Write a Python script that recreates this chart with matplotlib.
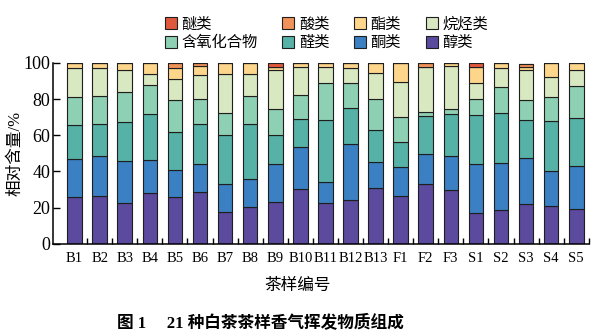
import numpy as np
import matplotlib as mpl
mpl.use('Agg')
import matplotlib.pyplot as plt
from matplotlib.patches import Patch

plt.rcParams['font.family'] = ['Liberation Serif', 'Noto Sans CJK SC']

samples = ['B1', 'B2', 'B3', 'B4', 'B5', 'B6', 'B7', 'B8', 'B9', 'B10', 'B11',
           'B12', 'B13', 'F1', 'F2', 'F3', 'S1', 'S2', 'S3', 'S4', 'S5']

# segment values in %, bottom to top
alcohols = [25.8, 26.3, 22.8, 28.0, 25.8, 28.7, 17.5, 20.6, 23.0, 30.4, 22.5,
            24.3, 30.8, 26.3, 33.0, 30.0, 17.1, 18.8, 22.3, 21.2, 19.2]
ketones = [21.2, 22.0, 23.2, 18.6, 14.9, 15.7, 15.6, 15.1, 21.0, 23.2, 11.6,
           31.1, 14.5, 16.4, 16.7, 18.6, 27.1, 25.8, 25.2, 19.0, 23.9]
aldehydes = [18.6, 18.2, 21.2, 25.0, 21.0, 22.1, 27.1, 30.8, 16.2, 15.6, 34.4,
             19.7, 17.5, 13.7, 21.2, 23.4, 26.9, 27.8, 20.8, 27.6, 26.7]
oxygenated = [15.8, 15.3, 16.6, 15.9, 17.7, 13.6, 12.3, 15.1, 14.2, 12.9, 20.3,
              14.0, 17.3, 13.9, 1.9, 2.4, 9.2, 14.0, 11.1, 13.4, 17.3]
alkanes = [16.0, 15.2, 12.0, 6.4, 11.8, 13.4, 21.6, 12.3, 21.4, 15.5, 8.8,
           8.3, 14.4, 19.2, 24.8, 23.9, 8.7, 11.0, 16.6, 10.9, 9.0]
esters = [2.6, 3.0, 4.2, 6.1, 5.7, 4.5, 5.9, 6.1, 1.7, 2.4, 2.4,
          2.6, 5.5, 10.5, 0.0, 1.7, 8.6, 2.6, 1.8, 7.9, 3.9]
acids = [0, 0, 0, 0, 3.1, 2.0, 0, 0, 0, 0, 0,
         0, 0, 0, 2.4, 0, 0, 0, 1.8, 0, 0]
ethers = [0, 0, 0, 0, 0, 0, 0, 0, 2.5, 0, 0,
          0, 0, 0, 0, 0, 2.4, 0, 0, 0, 0]

series = [('醇类', alcohols, '#5b4a9e'),
          ('酮类', ketones, '#3a80c2'),
          ('醛类', aldehydes, '#56b1a6'),
          ('含氧化合物', oxygenated, '#8ed0b4'),
          ('烷烃类', alkanes, '#d8e8c0'),
          ('酯类', esters, '#fdd68c'),
          ('酸类', acids, '#f0925a'),
          ('醚类', ethers, '#e0583c')]

fig = plt.figure(figsize=(5.99, 3.36), dpi=100)
ax = fig.add_axes([0.0885, 0.274, 0.8945, 0.539])

x = np.arange(len(samples))
bottom = np.zeros(len(samples))
for name, vals, col in series:
    vals = np.array(vals)
    ax.bar(x, vals, 0.58, bottom=bottom, color=col, edgecolor='#1e1e1e',
           linewidth=0.8, label=name)
    bottom += vals

ax.set_xlim(-0.86, 20.5)
ax.set_ylim(0, 100)
ax.set_xticks(x)
ax.set_xticklabels(samples, fontsize=10.5)
ax.set_xticks(np.arange(0.5, 21, 1), minor=True)
ax.tick_params(axis='x', which='major', length=0, pad=6)
ax.tick_params(axis='x', which='minor', direction='in', length=4, width=1)
ax.set_yticks(range(0, 101, 20))
ax.tick_params(axis='y', direction='in', length=5, width=1, labelsize=13, pad=2)
for s in ['top', 'right']:
    ax.spines[s].set_visible(False)
for s in ['left', 'bottom']:
    ax.spines[s].set_linewidth(1.1)

ax.set_ylabel('相对含量/%', fontsize=12, labelpad=0)
ax.set_xlabel('茶样编号', fontsize=12)
ax.xaxis.set_label_coords(0.457, -0.19)

# legend: row-wise order in a 4-column layout
cols = dict((n, c) for n, v, c in series)
order = ['醚类', '含氧化合物', '酸类', '醛类', '酯类', '酮类', '烷烃类', '醇类']
handles = [Patch(facecolor=cols[n], edgecolor='#1e1e1e', linewidth=0.8) for n in order]
fig.legend(handles, order, ncol=4, loc='center', bbox_to_anchor=(0.545, 0.9),
           frameon=False, fontsize=11, handlelength=0.8, handleheight=0.8,
           handletextpad=0.3, columnspacing=1.6, labelspacing=0.3)

fig.text(0.434, 0.04, '图 1     21 种白茶茶样香气挥发物质组成', ha='center', va='center',
         fontsize=12, fontweight='bold')

plt.savefig('out.png', dpi=100)
